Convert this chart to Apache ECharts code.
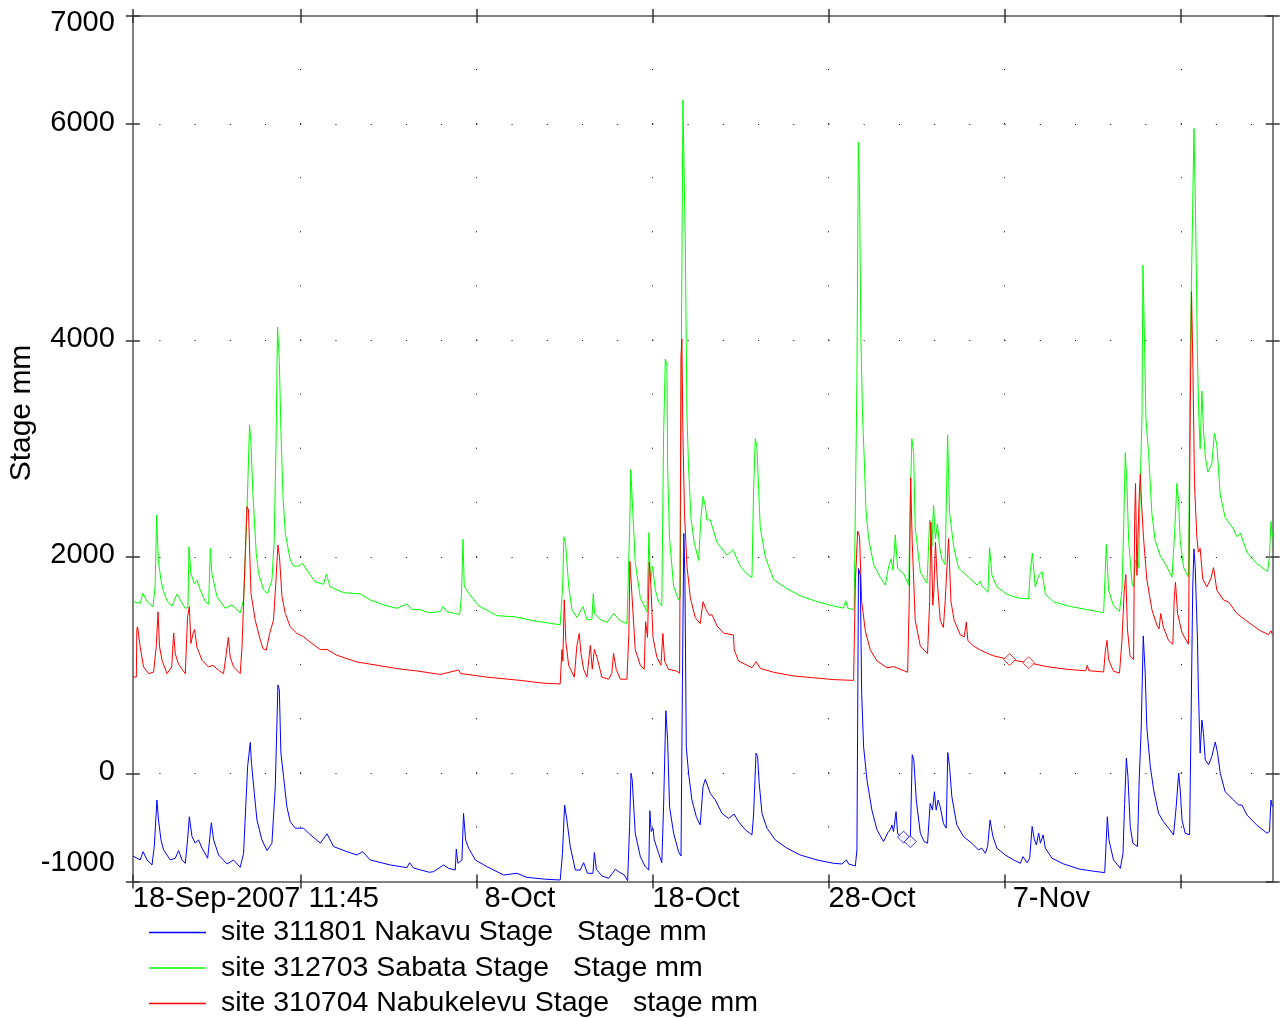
<!DOCTYPE html>
<html>
<head>
<meta charset="utf-8">
<title>Stage mm</title>
<script src="https://cdn.jsdelivr.net/npm/echarts@6/dist/echarts.min.js"></script>
<style>
    html, body { margin: 0; padding: 0; background: #fff; }
    #chart { width: 1281px; height: 1018px; }
</style>
</head>
<body>
<div id="chart"></div>
<script>
// x = days since 18-Sep-2007 00:00, y = stage in mm
const startDay = 11.75 / 24;          // 18-Sep-2007 11:45
const endDay = 65.22;
const dayTicks = [startDay, 10, 20, 30, 40, 50, 60];
const labelDays = [startDay, 20, 30, 40, 50];
const labelTexts = ['18-Sep-2007 11:45', ' 8-Oct', '18-Oct', '28-Oct', ' 7-Nov'];
const stageTicks = [-1000, 0, 2000, 4000, 6000, 7000];
const gridRows = [0, 2000, 4000, 6000];      // dotted rows (every 2 days)
const gridCols = [10, 20, 30, 40, 50, 60];   // dotted columns (every 500 mm)

const seriesNames = [
    'site 311801 Nakavu Stage   Stage mm',
    'site 312703 Sabata Stage   Stage mm',
    'site 310704 Nabukelevu Stage   stage mm'
];

// site 311801 Nakavu (blue)
const nakavu = [[0.50,-764],[0.91,-801],[1.07,-724],[1.30,-801],[1.58,-847],[1.71,-677],[1.86,-247],[1.95,-432],[2.09,-615],[2.24,-708],[2.62,-801],[2.90,-785],[3.09,-714],[3.28,-801],[3.47,-832],[3.60,-615],[3.70,-402],[3.85,-584],[4.04,-646],[4.22,-615],[4.42,-692],[4.74,-785],[4.85,-615],[4.95,-457],[5.08,-615],[5.36,-755],[5.84,-838],[6.21,-801],[6.59,-869],[6.78,-739],[7.01,63],[7.16,285],[7.23,94],[7.39,-185],[7.54,-432],[7.82,-615],[8.11,-714],[8.39,-646],[8.58,-123],[8.73,817],[8.81,770],[8.90,187],[9.05,-30],[9.24,-309],[9.43,-448],[9.72,-507],[10.19,-507],[10.47,-553],[11.14,-646],[11.52,-559],[11.89,-677],[12.65,-724],[13.22,-755],[13.54,-724],[13.97,-801],[15.11,-847],[16.06,-872],[16.21,-826],[16.43,-875],[17.33,-915],[17.57,-909],[18.14,-847],[18.42,-878],[18.80,-894],[18.86,-701],[18.95,-832],[19.18,-801],[19.27,-371],[19.39,-615],[19.56,-692],[19.94,-801],[20.60,-863],[21.55,-940],[22.30,-924],[22.87,-962],[24.01,-980],[24.76,-986],[24.89,-739],[25.01,-293],[25.14,-432],[25.33,-677],[25.62,-894],[25.90,-894],[26.09,-826],[26.31,-924],[26.62,-924],[26.70,-732],[26.81,-887],[27.13,-949],[27.51,-971],[27.89,-887],[28.08,-909],[28.40,-940],[28.59,-993],[28.70,-491],[28.78,1],[28.85,-61],[29.02,-553],[29.31,-770],[29.59,-863],[29.79,-894],[29.85,-346],[29.93,-538],[30.03,-507],[30.10,-615],[30.35,-739],[30.53,-826],[30.63,-309],[30.76,578],[30.86,306],[30.97,-309],[31.20,-553],[31.48,-724],[31.62,-764],[31.70,837],[31.78,2217],[31.84,1832],[31.92,244],[32.05,1],[32.24,-247],[32.49,-402],[32.71,-476],[32.87,-123],[33.00,-55],[33.28,-185],[33.57,-247],[33.95,-371],[34.32,-417],[34.64,-377],[34.89,-448],[35.27,-522],[35.65,-569],[35.74,-386],[35.88,187],[35.97,155],[36.06,-92],[36.22,-371],[36.50,-507],[36.97,-615],[37.64,-692],[38.39,-755],[39.34,-801],[40.28,-832],[40.76,-838],[41.01,-801],[41.14,-838],[41.52,-857],[41.61,-708],[41.70,1892],[41.80,1832],[41.88,737],[41.99,244],[42.18,-61],[42.46,-340],[42.75,-522],[43.12,-631],[43.37,-547],[43.50,-522],[43.60,-479],[43.69,-538],[43.83,-355],[43.92,-553],[44.07,-584],[44.26,-590],[44.45,-606],[44.64,-631],[44.68,-615],[44.75,171],[44.84,125],[44.98,-247],[45.21,-553],[45.43,-631],[45.62,-646],[45.77,-278],[45.90,-340],[46.01,-170],[46.11,-340],[46.22,-247],[46.34,-309],[46.52,-463],[46.68,-507],[46.77,192],[46.87,62],[47.00,-216],[47.28,-476],[47.66,-584],[48.13,-646],[48.51,-708],[48.70,-692],[48.90,-739],[49.03,-677],[49.17,-432],[49.33,-584],[49.56,-692],[50.03,-755],[50.51,-801],[50.89,-832],[51.04,-770],[51.27,-826],[51.42,-785],[51.56,-491],[51.69,-615],[51.80,-662],[51.93,-553],[52.03,-646],[52.18,-569],[52.31,-692],[52.69,-785],[53.35,-838],[54.29,-887],[55.24,-909],[55.68,-918],[55.77,-615],[55.83,-402],[55.92,-615],[56.18,-801],[56.57,-878],[56.72,-739],[56.81,-278],[56.91,140],[57.00,-30],[57.13,-491],[57.28,-646],[57.54,-677],[57.64,-61],[57.75,399],[57.87,1270],[57.98,925],[58.07,430],[58.27,62],[58.46,-154],[58.74,-371],[59.02,-448],[59.31,-507],[59.59,-569],[59.74,-309],[59.88,1],[59.97,-154],[60.07,-432],[60.25,-553],[60.50,-569],[60.57,306],[60.68,1730],[60.75,2074],[60.82,1903],[60.95,1230],[61.00,770],[61.10,187],[61.20,492],[61.29,368],[61.39,125],[61.58,78],[61.76,155],[61.96,290],[62.09,187],[62.24,1],[62.52,-170],[63.00,-247],[63.28,-293],[63.47,-293],[63.76,-386],[64.32,-479],[64.89,-553],[65.04,-538],[65.12,-247],[65.20,-309]];

// site 312703 Sabata (green)
const sabata = [[0.50,1586],[0.91,1571],[1.07,1664],[1.30,1586],[1.64,1540],[1.76,1733],[1.84,2388],[1.94,1970],[2.09,1785],[2.24,1679],[2.46,1586],[2.71,1546],[3.00,1658],[3.19,1602],[3.47,1525],[3.62,1533],[3.68,2094],[3.79,1847],[3.98,1754],[4.13,1785],[4.32,1695],[4.61,1586],[4.80,1563],[4.89,2079],[4.98,1847],[5.27,1633],[5.74,1525],[6.12,1556],[6.59,1484],[6.78,1602],[6.97,2407],[7.12,3219],[7.20,3049],[7.31,2585],[7.50,2033],[7.63,1847],[7.92,1695],[8.14,1664],[8.39,1785],[8.52,2156],[8.62,3017],[8.71,4126],[8.81,3817],[8.90,3172],[9.02,2553],[9.15,2218],[9.43,1970],[9.62,1915],[9.90,1915],[10.13,1940],[10.38,1878],[10.85,1769],[11.32,1748],[11.48,1840],[11.70,1722],[12.46,1670],[13.41,1658],[13.97,1602],[14.73,1556],[15.49,1525],[16.06,1565],[16.34,1516],[16.81,1513],[17.29,1484],[17.95,1494],[18.10,1542],[18.33,1494],[19.05,1468],[19.15,1633],[19.24,2163],[19.31,1732],[19.45,1693],[19.56,1667],[20.13,1549],[21.17,1457],[22.21,1446],[23.25,1410],[24.76,1373],[24.90,1733],[24.97,2188],[25.07,2115],[25.24,1733],[25.43,1513],[25.71,1439],[26.05,1542],[26.28,1421],[26.56,1421],[26.64,1660],[26.71,1476],[27.04,1421],[27.42,1395],[27.79,1476],[27.98,1446],[28.17,1410],[28.55,1384],[28.70,2230],[28.77,2807],[28.85,2532],[29.02,1950],[29.31,1622],[29.69,1494],[29.80,2225],[29.88,1766],[30.01,1913],[30.16,1696],[30.35,1586],[30.53,1549],[30.63,3119],[30.73,3829],[30.82,3774],[30.86,2826],[30.97,2170],[31.20,1730],[31.48,1604],[31.58,1633],[31.65,4214],[31.73,6226],[31.82,6226],[31.86,4944],[31.96,3302],[32.05,2826],[32.19,2354],[32.37,2133],[32.62,1968],[32.75,2354],[32.87,2560],[33.00,2475],[33.09,2342],[33.28,2342],[33.66,2136],[34.23,2015],[34.57,2067],[34.99,1912],[35.37,1843],[35.65,1809],[35.74,2612],[35.84,3093],[35.93,3025],[36.03,2612],[36.12,2273],[36.41,1998],[36.88,1791],[37.64,1706],[38.39,1640],[39.34,1588],[40.27,1547],[40.84,1527],[40.98,1595],[41.09,1527],[41.45,1513],[41.61,3638],[41.69,5834],[41.76,5353],[41.84,3982],[41.93,3299],[42.03,2887],[42.12,2445],[42.27,2170],[42.56,1929],[42.94,1809],[43.22,1740],[43.41,1912],[43.55,1981],[43.66,1878],[43.79,2204],[43.92,1895],[44.27,1843],[44.55,1740],[44.64,2508],[44.73,3093],[44.83,2956],[44.92,2273],[45.21,1860],[45.59,1757],[45.74,2342],[45.87,2101],[45.96,2479],[46.07,2170],[46.18,2307],[46.30,2101],[46.43,1981],[46.62,1929],[46.76,3128],[46.87,2411],[47.10,2101],[47.38,1895],[47.86,1826],[48.43,1740],[48.61,1777],[48.71,1730],[49.05,1674],[49.14,2086],[49.28,1830],[49.56,1723],[50.13,1655],[50.79,1620],[51.36,1612],[51.45,1865],[51.57,2036],[51.74,1723],[51.93,1830],[52.12,1865],[52.31,1655],[52.78,1584],[53.73,1542],[54.67,1513],[55.62,1485],[55.71,1865],[55.77,2115],[55.90,1691],[56.18,1549],[56.52,1495],[56.66,1691],[56.75,2221],[56.85,2963],[56.94,2679],[57.04,2150],[57.23,1759],[57.32,1723],[57.42,1972],[57.61,1901],[57.70,2679],[57.80,3319],[57.85,4696],[57.93,4096],[58.02,3283],[58.17,2963],[58.36,2399],[58.55,2150],[58.84,2008],[59.12,1937],[59.50,1813],[59.65,2221],[59.78,2679],[59.88,2501],[59.97,2150],[60.16,1901],[60.44,1813],[60.54,3919],[60.67,5158],[60.75,5960],[60.84,5158],[60.95,3812],[61.03,3283],[61.10,2999],[61.20,3533],[61.29,3177],[61.39,2928],[61.54,2786],[61.76,2857],[61.91,3142],[62.05,3035],[62.24,2573],[62.52,2364],[63.00,2257],[63.19,2186],[63.38,2221],[63.76,2044],[64.32,1937],[64.93,1865],[65.04,2008],[65.12,2328],[65.20,2186]];

// site 310704 Nabukelevu (red)
const nabukelevu = [[0.50,890],[0.69,890],[0.72,1333],[0.76,1354],[0.91,1168],[1.10,983],[1.39,921],[1.67,936],[1.82,1168],[1.92,1493],[2.01,1168],[2.15,1045],[2.43,921],[2.70,983],[2.81,1298],[2.90,1107],[3.09,1008],[3.47,921],[3.60,1447],[3.70,1540],[3.79,1200],[3.91,1293],[4.00,1330],[4.13,1168],[4.42,1045],[4.79,983],[5.04,999],[5.36,952],[5.64,921],[5.80,1107],[5.91,1256],[6.02,1076],[6.21,983],[6.59,921],[6.69,1168],[6.88,2033],[6.97,2465],[7.06,2435],[7.12,2094],[7.20,1664],[7.44,1416],[7.73,1231],[7.88,1153],[8.07,1138],[8.26,1293],[8.48,1416],[8.62,1785],[8.73,2110],[8.82,2001],[8.96,1633],[9.15,1478],[9.43,1354],[9.81,1293],[10.19,1262],[10.66,1200],[11.14,1144],[11.52,1144],[12.08,1091],[13.22,1029],[14.36,999],[15.49,968],[16.63,946],[17.95,914],[18.99,955],[19.10,923],[20.60,889],[22.49,859],[23.82,833],[24.76,826],[24.86,1145],[24.91,1036],[24.99,1604],[25.08,1218],[25.24,999],[25.56,889],[25.71,1182],[25.84,1292],[25.94,1109],[26.09,962],[26.28,889],[26.47,1182],[26.58,962],[26.70,1145],[26.85,1072],[27.13,889],[27.51,870],[27.69,925],[27.79,1109],[27.94,962],[28.17,870],[28.55,870],[28.66,1292],[28.72,1957],[28.83,1660],[29.02,1145],[29.31,999],[29.53,962],[29.61,1402],[29.72,1256],[29.82,1950],[29.91,1730],[30.03,1256],[30.25,1072],[30.48,999],[30.59,1292],[30.69,1036],[30.91,962],[31.39,944],[31.54,925],[31.62,3848],[31.67,4013],[31.73,3119],[31.82,2390],[31.96,1913],[32.15,1622],[32.43,1439],[32.71,1384],[32.87,1586],[33.05,1513],[33.24,1457],[33.37,1468],[33.66,1364],[34.04,1296],[34.60,1279],[34.64,1141],[34.89,1038],[35.65,976],[35.89,1031],[36.12,970],[36.88,934],[38.01,900],[39.15,883],[40.28,866],[41.42,859],[41.52,1757],[41.65,2239],[41.76,2187],[41.88,1588],[42.09,1313],[42.37,1141],[42.75,1038],[43.32,976],[43.70,986],[44.49,934],[44.58,1588],[44.66,2732],[44.75,2136],[44.92,1416],[45.21,1176],[45.62,1107],[45.74,1588],[45.81,2324],[45.92,1553],[45.98,1691],[46.07,2136],[46.18,1757],[46.34,1416],[46.52,1348],[46.62,1588],[46.81,2170],[46.95,1588],[47.13,1416],[47.48,1279],[47.70,1261],[47.82,1398],[47.91,1227],[48.23,1176],[48.61,1140],[49.14,1100],[49.37,1086],[50.28,1051],[51.36,1022],[52.40,986],[53.54,961],[54.60,948],[54.69,998],[54.78,948],[55.62,937],[55.71,1122],[55.81,1229],[55.90,1051],[56.18,944],[56.52,926],[56.66,1229],[56.79,1691],[56.88,1838],[56.97,1335],[57.12,1086],[57.32,1051],[57.38,2328],[57.43,2679],[57.51,1830],[57.62,2471],[57.70,2767],[57.77,2501],[57.88,2186],[58.07,1795],[58.36,1513],[58.64,1371],[58.77,1335],[58.86,1477],[59.01,1353],[59.30,1229],[59.55,1193],[59.63,1620],[59.70,1766],[59.82,1477],[60.07,1299],[60.44,1193],[60.54,3385],[60.61,4452],[60.69,3741],[60.78,2679],[60.91,2186],[61.00,2044],[61.10,2079],[61.25,1795],[61.48,1723],[61.70,1795],[61.86,1901],[62.05,1691],[62.43,1602],[62.71,1584],[63.19,1477],[63.76,1406],[64.51,1318],[64.98,1282],[65.12,1318],[65.20,1282]];

// gap markers (diamonds)
const nakavuGaps = [[44.26,-590],[44.64,-631]];
const nabukelevuGaps = [[50.28,1051],[51.36,1022]];

const colors = ['#0000ff', '#00ff00', '#ff0000'];
const fontFamily = '"Liberation Sans", Arial, sans-serif';
const fontSize = 29;
const legendFontSize = 28.5;
const frameColor = '#808080';
const tickColor = '#333';

const chart = echarts.init(document.getElementById('chart'));

function dayLabel(v) {
    let best = 0;
    for (let i = 0; i < labelDays.length; i++) {
        if (Math.abs(labelDays[i] - v) < Math.abs(labelDays[best] - v)) best = i;
    }
    return labelTexts[best];
}

// one x axis: bottom/top, ticks outside or inside
function xAxisOf(position, inside, main) {
    return {
        type: 'value', position: position, min: startDay, max: endDay,
        axisLine: { show: main, onZero: false, lineStyle: { color: frameColor, width: 2 } },
        axisTick: { show: true, inside: inside, length: 7, customValues: dayTicks,
                    lineStyle: { color: tickColor, width: 1.5 } },
        axisLabel: main && position === 'bottom' ? {
            show: true, customValues: labelDays, formatter: dayLabel, align: 'left',
            margin: 3, fontSize: fontSize, color: '#000', fontFamily: fontFamily
        } : { show: false },
        splitLine: { show: false }
    };
}

function yAxisOf(position, inside, main) {
    return {
        type: 'value', position: position, min: -1000, max: 7000,
        axisLine: { show: main, onZero: false, lineStyle: { color: frameColor, width: 2 } },
        axisTick: { show: true, inside: inside, length: 7, customValues: stageTicks,
                    lineStyle: { color: tickColor, width: 1.5 } },
        axisLabel: main && position === 'left' ? {
            show: true, customValues: stageTicks, margin: 18,
            fontSize: fontSize, color: '#000', fontFamily: fontFamily,
            formatter: v => v === 7000 ? '{top|7000}' : (v === -1000 ? '{bot|-1000}' : '{n|' + v + '}'),
            rich: {
                top: { fontSize: fontSize, fontFamily: fontFamily, padding: [14, 0, 0, 0] },
                bot: { fontSize: fontSize, fontFamily: fontFamily, padding: [0, 0, 38, 0] },
                n: { fontSize: fontSize, fontFamily: fontFamily, padding: [0, 0, 3, 0] }
            }
        } : { show: false },
        splitLine: { show: false }
    };
}

// dotted grid: rows every 2 days, columns every 500 mm
const dotRows = gridRows.map(v => ({
    yAxis: v,
    lineStyle: { color: '#000', width: 1, type: [1, 34.216], dashOffset: 8.62 }
}));
const dotCols = gridCols.map(d => ({
    xAxis: d,
    lineStyle: { color: '#000', width: 1, type: [1, 53.1], dashOffset: 0 }
}));

function lineSeries(name, data, color, z) {
    return {
        name: name, type: 'line', data: data, z: z,
        symbol: 'none', showSymbol: false, animation: false,
        lineStyle: { color: color, width: 1 },
        itemStyle: { color: color },
        emphasis: { disabled: true }
    };
}

function gapSeries(data, color, z) {
    return {
        type: 'scatter', data: data, z: z, symbol: 'diamond', symbolSize: [12, 12],
        animation: false, silent: true,
        itemStyle: { color: '#fff', borderColor: color, borderWidth: 1 }
    };
}

const sabataSeries = lineSeries(seriesNames[1], sabata, colors[1], 2);
sabataSeries.markLine = {
    silent: true, animation: false, symbol: ['none', 'none'],
    label: { show: false }, emphasis: { disabled: true },
    data: dotRows.concat(dotCols)
};

const option = {
    backgroundColor: '#fff',
    animation: false,
    grid: { left: 132.8, right: 8.3, top: 16, bottom: 136.5, outerBoundsMode: 'none' },
    xAxis: [
        xAxisOf('bottom', false, true),
        xAxisOf('bottom', true, false),
        xAxisOf('top', false, true),
        xAxisOf('top', true, false)
    ],
    yAxis: [
        yAxisOf('left', false, true),
        yAxisOf('left', true, false),
        yAxisOf('right', false, true),
        yAxisOf('right', true, false)
    ],
    legend: {
        data: seriesNames,
        orient: 'vertical', left: 149, top: 918,
        icon: 'rect', itemWidth: 57, itemHeight: 1.5, itemGap: 6.5, padding: 0,
        selectedMode: false,
        textStyle: { fontSize: legendFontSize, color: '#000', fontFamily: fontFamily, padding: [0, 0, 0, 10] }
    },
    graphic: [{
        type: 'text', x: 22, y: 413, rotation: Math.PI / 2,
        style: { text: 'Stage mm', x: 0, y: 0, align: 'center', verticalAlign: 'middle',
                 font: '30px ' + fontFamily, fill: '#000' }
    }],
    series: [
        sabataSeries,
        lineSeries(seriesNames[2], nabukelevu, colors[2], 3),
        lineSeries(seriesNames[0], nakavu, colors[0], 4),
        gapSeries(nabukelevuGaps, colors[2], 5),
        gapSeries(nakavuGaps, colors[0], 5)
    ]
};

chart.setOption(option);
</script>
</body>
</html>
